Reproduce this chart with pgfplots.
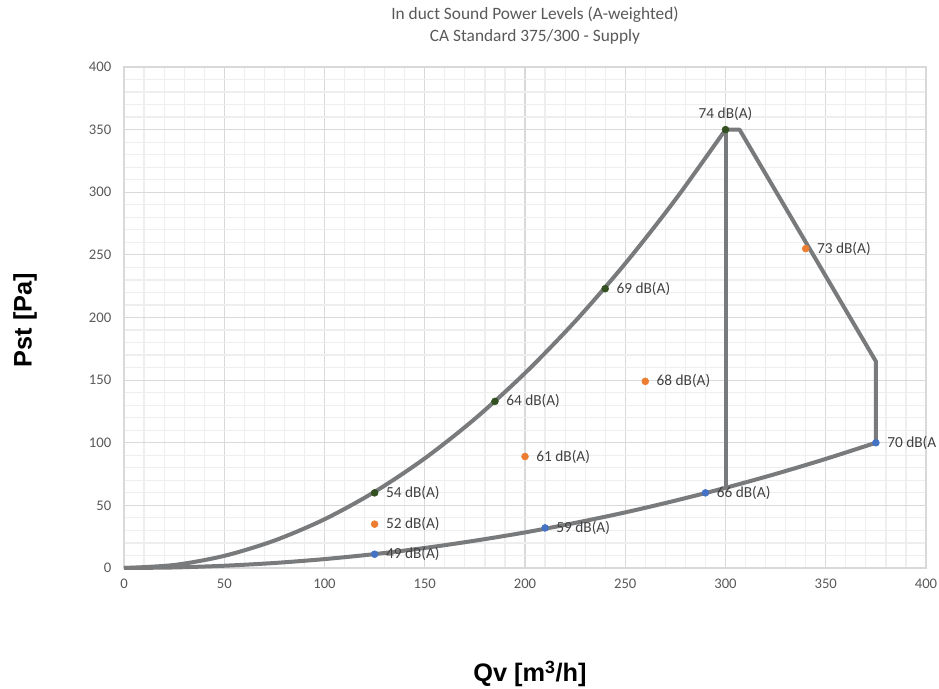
\documentclass[border=0pt]{standalone}
\usepackage{pgfplots}
\pgfplotsset{compat=1.18}
\usepackage{fontspec}
\setmainfont{Carlito}
\newfontfamily\arialfont{Liberation Sans}
\definecolor{linegray}{RGB}{120,122,124}
\definecolor{dkgreen}{RGB}{50,80,32}
\definecolor{xlorange}{RGB}{237,125,49}
\definecolor{xlblue}{RGB}{68,114,196}
\definecolor{txtgray}{RGB}{89,89,89}
\definecolor{lblgray}{RGB}{64,64,64}
\definecolor{majgrid}{RGB}{217,217,217}
\definecolor{mingrid}{RGB}{238,238,238}
\begin{document}
\begin{tikzpicture}[x=0.75pt,y=0.75pt]
\path[use as bounding box] (0,0) rectangle (939,689);
\begin{axis}[at={(93pt,90.75pt)}, anchor=south west,
  width=601.5pt, height=375.75pt, scale only axis,
  xmin=0, xmax=400, ymin=0, ymax=400,
  xtick distance=50, ytick distance=50,
  minor x tick num=4, minor y tick num=4,
  grid=both,
  major grid style={draw=majgrid, line width=0.9pt},
  minor grid style={draw=mingrid, line width=0.9pt},
  axis line style={draw=majgrid, line width=0.9pt},
  major tick style={draw=none}, minor tick style={draw=none},
  ticklabel style={font=\fontsize{11}{13}\selectfont, text=txtgray},
  /pgf/number format/assume math mode=true,
  yticklabel style={xshift=-6pt},
  xticklabel style={yshift=-5pt},
  clip=false,
  nodes near coords style={font=\fontsize{11.5}{13}\selectfont, text=lblgray},
]
% upper system curve
\addplot[linegray, line width=3pt, smooth] coordinates {
(0,0) (25,2.4) (50,9.7) (75,21.9) (100,38.9) (125,60.8) (150,87.5) (175,119.1) (200,155.6) (225,196.9) (250,243.1) (275,294.1) (300,350)};
% lower system curve
\addplot[linegray, line width=3pt, smooth] coordinates {
(0,0) (25,0.44) (50,1.8) (75,4.0) (100,7.1) (125,11.1) (150,16.0) (175,21.8) (200,28.4) (225,36.0) (250,44.4) (275,53.8) (300,64.0) (325,75.1) (350,87.1) (375,100)};
% envelope
\addplot[linegray, line width=3pt, line join=round] coordinates {(300,350) (307,350) (375,165) (375,100)};
\addplot[linegray, line width=3pt] coordinates {(300,350) (300,64)};
% points
\addplot[only marks, mark=*, mark size=2.6pt, mark options={draw=dkgreen, fill=dkgreen},
  point meta=explicit symbolic, nodes near coords, nodes near coords align={anchor=west, xshift=5pt}]
  coordinates {(125,60) [54 dB(A)] (185,133) [64 dB(A)] (240,223) [69 dB(A)]};
\addplot[only marks, mark=*, mark size=2.6pt, mark options={draw=dkgreen, fill=dkgreen},
  point meta=explicit symbolic, nodes near coords, nodes near coords align={anchor=south, yshift=3pt}]
  coordinates {(300,350) [74 dB(A)]};
\addplot[only marks, mark=*, mark size=2.6pt, mark options={draw=xlorange, fill=xlorange},
  point meta=explicit symbolic, nodes near coords, nodes near coords align={anchor=west, xshift=5pt}]
  coordinates {(125,35) [52 dB(A)] (200,89) [61 dB(A)] (260,149) [68 dB(A)] (340,255) [73 dB(A)]};
\addplot[only marks, mark=*, mark size=2.6pt, mark options={draw=xlblue, fill=xlblue},
  point meta=explicit symbolic, nodes near coords, nodes near coords align={anchor=west, xshift=5pt}]
  coordinates {(125,11) [49 dB(A)] (210,32) [59 dB(A)] (290,60) [66 dB(A)] (375,100) [70 dB(A]};
\end{axis}
\node[align=center, text=txtgray, font=\fontsize{13}{16.5}\selectfont] at (535,663) {In duct Sound Power Levels (A-weighted)\\CA Standard 375/300 - Supply};
\node[rotate=90, font=\arialfont\bfseries\fontsize{19}{22}\selectfont] at (25,369) {Pst [Pa]};
\node[font=\arialfont\bfseries\fontsize{19}{22}\selectfont] at (530,15) {Qv [m\textsuperscript{3}/h]};
\end{tikzpicture}
\end{document}
